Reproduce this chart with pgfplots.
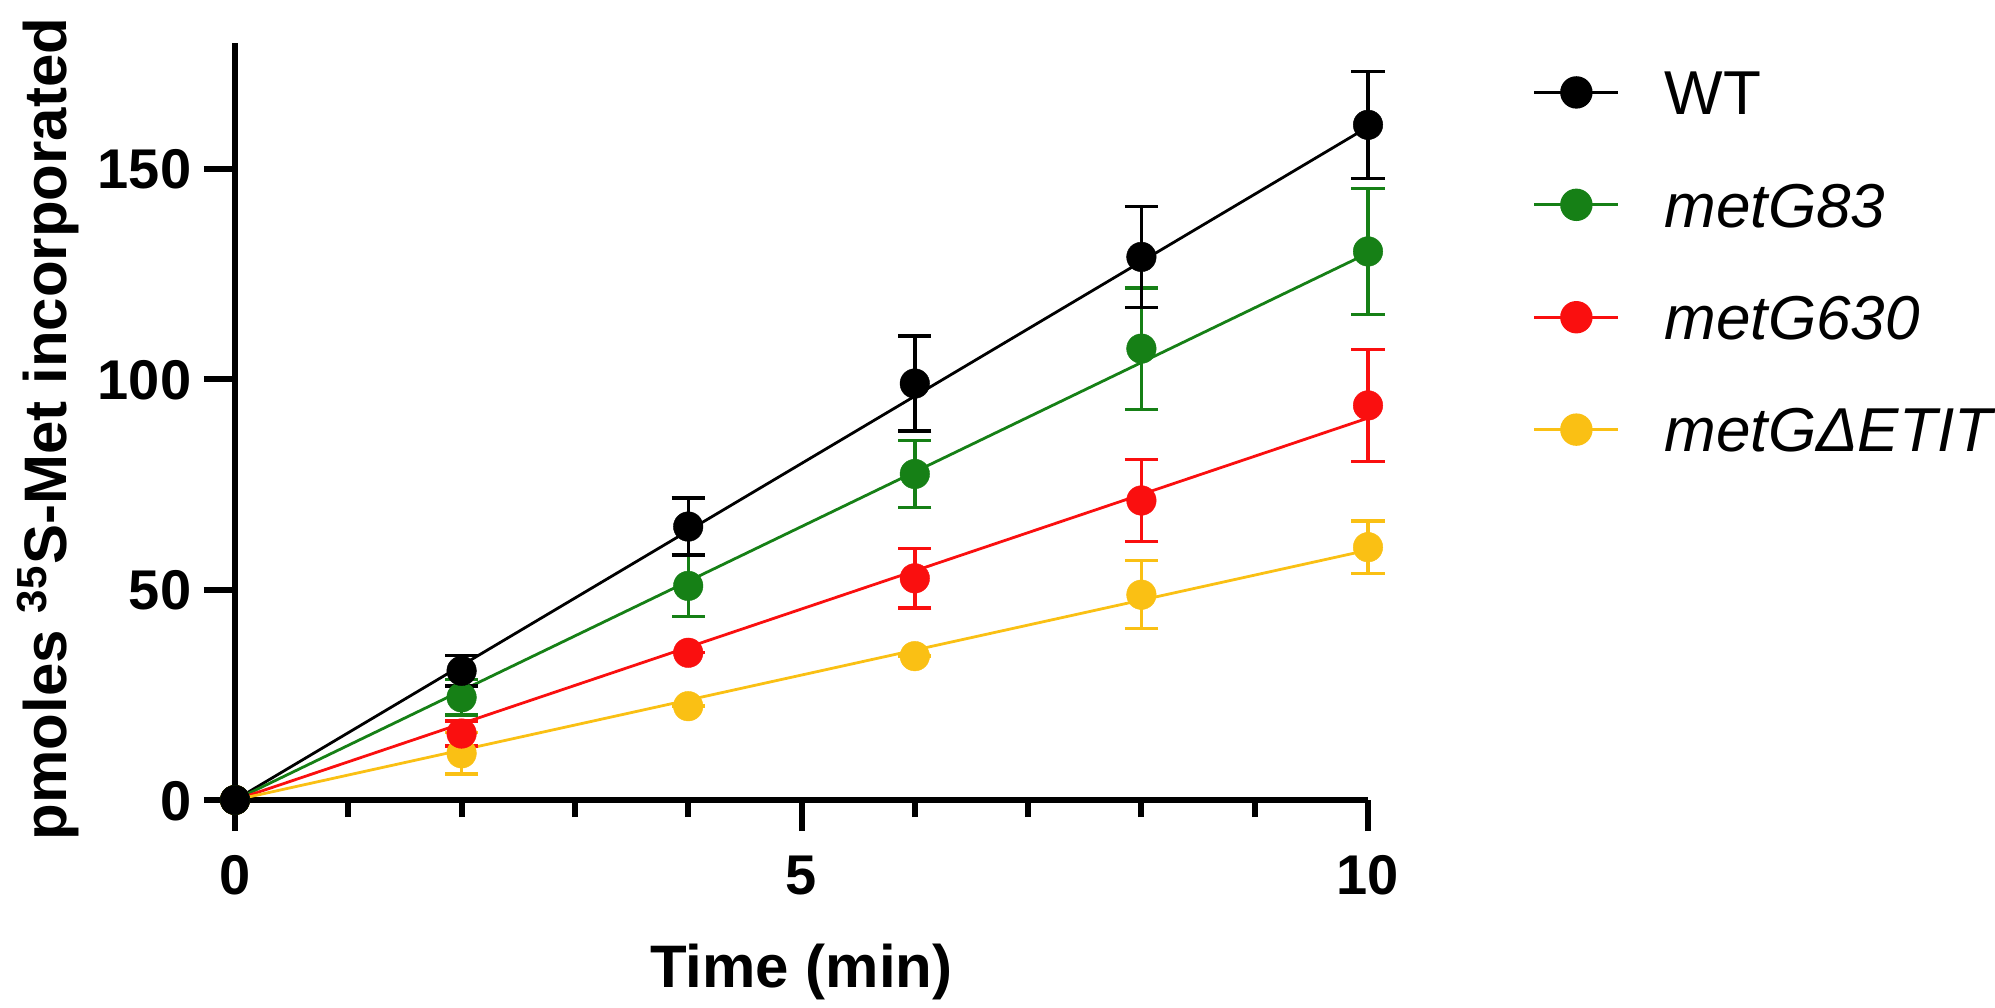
\documentclass[border=0pt]{standalone}
\usepackage{fontspec}
\setmainfont{Liberation Sans}
\usepackage{pgfplots}
\usepackage{pgfplotstable}
\pgfplotsset{compat=1.18}
\definecolor{cwt}{RGB}{0,0,0}
\definecolor{cg}{RGB}{22,128,22}
\definecolor{cr}{RGB}{250,15,15}
\definecolor{cy}{RGB}{250,192,20}

\pgfplotstableread{
x y e
0 0 0
2 30.7 3.6
4 65.0 6.8
6 99.0 11.3
8 129.1 12.0
10 160.5 12.7
}\wt
\pgfplotstableread{
x y e
0 0 0
2 24.4 4.2
4 50.9 7.3
6 77.5 7.9
8 107.3 14.4
10 130.4 15.0
}\gr
\pgfplotstableread{
x y e
0 0 0
2 15.8 3.0
4 35.0 0
6 52.7 7.1
8 71.2 9.7
10 93.8 13.3
}\rd
\pgfplotstableread{
x y e
0 0 0
2 11.1 4.9
4 22.3 0
6 34.2 0
8 48.8 8.1
10 60.1 6.2
}\yl

\pgfplotsset{
  errstyle/.style={forget plot, only marks, mark=*, mark size=3.7bp,
    mark options={fill=#1, draw=#1, line width=0.1bp},
    error bars/.cd, y dir=both, y explicit, error mark=-,
    error bar style={line width=0.85bp, #1},
    error mark options={rotate=90, line width=0.85bp, mark size=4.15bp, #1},
    /pgfplots/.cd},
  fitstyle/.style={#1, line width=0.7bp, no marks,
    legend image code/.code={%
      \draw[line width=0.7bp, #1] (0bp,0bp) -- (21bp,0bp);
      \fill[#1] (10.5bp,0bp) circle[radius=3.7bp];}},
}

\begin{document}
\begin{tikzpicture}
\useasboundingbox (-58.75bp,-52bp) rectangle (440bp,200bp);
\begin{axis}[
  at={(0,0)}, anchor=south west,
  scale only axis, width=283.25bp, height=189.3bp,
  xmin=0, xmax=10, ymin=0, ymax=180,
  axis lines=left, axis line style={-, line width=1.6bp},
  clip=false,
  hide obscured x ticks=false, hide obscured y ticks=false,
  xtick={0,5,10}, minor xtick={1,2,3,4,6,7,8,9},
  ytick={0,50,100,150},
  tick align=outside, major tick length=7.75bp, minor tick length=4.25bp,
  every tick/.style={black, line width=1.5bp},
  /pgf/number format/assume math mode=true,
  tick label style={font=\fontsize{14bp}{16bp}\selectfont\bfseries, inner sep=0pt, text height=10bp, text depth=0pt},
  xticklabel style={anchor=center, yshift=-10.75bp},
  yticklabel style={anchor=east, xshift=-3bp},
  xlabel={Time (min)},
  ylabel={pmoles \textsuperscript{35}S-Met incorporated},
  xlabel style={font=\fontsize{15bp}{18bp}\selectfont\bfseries, at={(rel axis cs:0.5,0)}, anchor=center, yshift=-43bp},
  ylabel style={font=\fontsize{15bp}{18bp}\selectfont\bfseries, at={(rel axis cs:0,0.49)}, anchor=center, yshift=46.75bp},
  legend style={draw=none, fill=none, inner sep=0pt, outer sep=0pt,
    at={(rel axis cs:1.1456,0.7118)}, anchor=west, row sep=17bp,
    nodes={font=\fontsize{15.5bp}{18bp}\selectfont, text height=11.1bp, text depth=0pt, inner sep=0pt, anchor=west},
    /tikz/every odd column/.style={column sep=11.25bp}},
  legend cell align=left,
]
\addplot[fitstyle=cwt] coordinates {(0,0) (10,160.0)};
\addplot[fitstyle=cg] coordinates {(0,0) (10,130.0)};
\addplot[fitstyle=cr] coordinates {(0,0) (10,90.8)};
\addplot[fitstyle=cy] coordinates {(0,0) (10,59.4)};
\legend{WT, \textit{metG83}, \textit{metG630}, \textit{metGΔETIT}}
\addplot[errstyle=cy] table[x=x, y=y, y error=e] {\yl};
\addplot[errstyle=cr] table[x=x, y=y, y error=e] {\rd};
\addplot[errstyle=cg] table[x=x, y=y, y error=e] {\gr};
\addplot[errstyle=cwt] table[x=x, y=y, y error=e] {\wt};
\end{axis}
\end{tikzpicture}
\end{document}
